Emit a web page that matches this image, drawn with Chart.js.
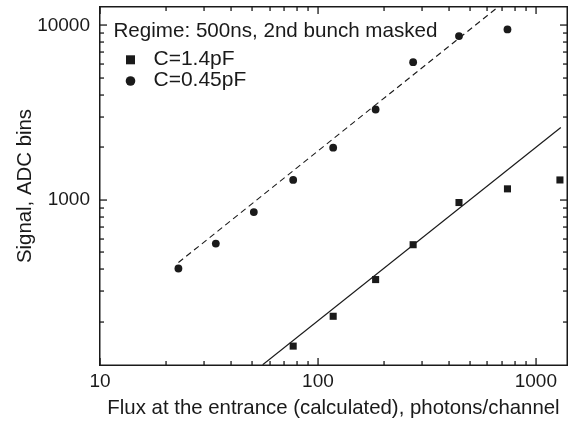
<!DOCTYPE html>
<html>
<head>
<meta charset="utf-8">
<script src="https://cdn.jsdelivr.net/npm/chart.js@4.4.1/dist/chart.umd.min.js"></script>
<style>
  html, body { margin: 0; padding: 0; background: #fff; }
  #wrap { width: 576px; height: 422px; }
</style>
</head>
<body>
<div id="wrap"><canvas id="fluxChart" width="576" height="422"></canvas></div>
<script>
const squareFlux = [77, 117.5, 184, 273.5, 444, 741, 1290];
const squareSignal = [145, 215, 349, 553, 965, 1156, 1300];
const circleFlux = [22.9, 34, 50.8, 77, 117.5, 184, 273.5, 444, 741];
const circleSignal = [404, 561, 851, 1301, 1990, 3296, 6151, 8690, 9480];

// fit lines (end points only)
const solidFitFlux = [55.8, 1302];
const solidFitSignal = [113.4, 2600];
const dashedFitFlux = [22.9, 671];
const dashedFitSignal = [437, 12750];

const xTickValues = [10, 20, 30, 40, 50, 60, 70, 80, 90, 100, 200, 300, 400, 500, 600, 700, 800, 900, 1000];
const yTickValues = [200, 300, 400, 500, 600, 700, 800, 900, 1000, 2000, 3000, 4000, 5000, 6000, 7000, 8000, 9000, 10000];
const xLabelled = [10, 100, 1000];
const yLabelled = [1000, 10000];

const legendTitle = 'Regime: 500ns, 2nd bunch masked';
const legendNames = ['C=1.4pF', 'C=0.45pF'];

const FONT = '"Liberation Sans", Arial, Helvetica, sans-serif';
const INK = '#1a1a1a';

function toPoints(xs, ys) {
  return xs.map((x, i) => ({ x, y: ys[i] }));
}

const frameAndLegend = {
  id: 'frameAndLegend',
  afterDraw(chart) {
    const { ctx, chartArea: area } = chart;
    const xScale = chart.scales.x;
    const yScale = chart.scales.y;
    const left = Math.round(area.left);
    const right = Math.round(area.right);
    const top = Math.round(area.top);
    const bottom = Math.round(area.bottom);
    ctx.save();
    ctx.fillStyle = INK;

    // frame
    ctx.fillRect(left - 1, top - 1, right - left + 2, 1.5);
    ctx.fillRect(left - 1, bottom - 0.5, right - left + 2, 1.5);
    ctx.fillRect(left - 1, top - 1, 1.5, bottom - top + 2);
    ctx.fillRect(right - 0.5, top - 1, 1.5, bottom - top + 2);

    // inward ticks on all four sides
    xTickValues.forEach((v) => {
      const px = Math.round(xScale.getPixelForValue(v));
      const len = xLabelled.includes(v) ? 7 : 4;
      ctx.fillRect(px - 0.6, bottom - len, 1.3, len);
      ctx.fillRect(px - 0.6, top, 1.3, len);
    });
    yTickValues.forEach((v) => {
      const py = Math.round(yScale.getPixelForValue(v));
      const len = yLabelled.includes(v) ? 7 : 4;
      ctx.fillRect(left, py - 0.6, len, 1.3);
      ctx.fillRect(right - len, py - 0.6, len, 1.3);
    });

    // legend inside the plot
    ctx.textBaseline = 'alphabetic';
    ctx.textAlign = 'left';
    ctx.font = '20.6px ' + FONT;
    ctx.fillText(legendTitle, 113.5, 36.5);
    ctx.font = '21px ' + FONT;
    ctx.fillRect(126, 55.3, 9, 9);
    ctx.fillText(legendNames[0], 153.5, 65);
    ctx.beginPath();
    ctx.arc(130.5, 81, 4.8, 0, Math.PI * 2);
    ctx.fill();
    ctx.fillText(legendNames[1], 153.5, 86.3);
    ctx.restore();
  }
};

new Chart(document.getElementById('fluxChart'), {
  type: 'scatter',
  data: {
    datasets: [
      {
        label: 'fit 1.4pF',
        data: toPoints(solidFitFlux, solidFitSignal),
        showLine: true,
        borderColor: INK,
        borderWidth: 1.2,
        pointRadius: 0
      },
      {
        label: 'fit 0.45pF',
        data: toPoints(dashedFitFlux, dashedFitSignal),
        showLine: true,
        borderColor: INK,
        borderWidth: 1.1,
        borderDash: [6, 4],
        pointRadius: 0
      },
      {
        label: legendNames[0],
        data: toPoints(squareFlux, squareSignal),
        pointStyle: 'rect',
        pointRadius: 5,
        backgroundColor: INK,
        borderColor: INK,
        borderWidth: 0
      },
      {
        label: legendNames[1],
        data: toPoints(circleFlux, circleSignal),
        pointStyle: 'circle',
        pointRadius: 3.9,
        backgroundColor: INK,
        borderColor: INK,
        borderWidth: 0
      }
    ]
  },
  options: {
    responsive: false,
    animation: false,
    events: [],
    layout: { padding: { top: 7, right: 9, left: 0, bottom: 0 } },
    plugins: {
      legend: { display: false },
      tooltip: { enabled: false }
    },
    scales: {
      x: {
        type: 'logarithmic',
        min: 10,
        max: 1390,
        afterBuildTicks: (scale) => { scale.ticks = xTickValues.map((v) => ({ value: v })); },
        afterFit: (scale) => {
          scale.height = 57;
          scale.paddingLeft = 0;
          scale.paddingRight = 0;
        },
        grid: { display: false, drawTicks: false },
        border: { display: false },
        ticks: {
          autoSkip: false,
          maxRotation: 0,
          padding: 5,
          color: INK,
          font: { family: FONT, size: 19 },
          callback: (value) => (xLabelled.includes(value) ? String(value) : '')
        },
        title: {
          display: true,
          text: 'Flux at the entrance (calculated), photons/channel',
          color: INK,
          font: { family: FONT, size: 20.4 },
          padding: { top: 0, bottom: 1 }
        }
      },
      y: {
        type: 'logarithmic',
        min: 113,
        max: 12750,
        afterBuildTicks: (scale) => { scale.ticks = yTickValues.map((v) => ({ value: v })); },
        afterFit: (scale) => {
          scale.width = 100;
          scale.paddingTop = 0;
          scale.paddingBottom = 0;
        },
        grid: { display: false, drawTicks: false },
        border: { display: false },
        ticks: {
          autoSkip: false,
          padding: 10,
          color: INK,
          font: { family: FONT, size: 19 },
          callback: (value) => (yLabelled.includes(value) ? String(value) : '')
        },
        title: {
          display: true,
          text: 'Signal, ADC bins',
          color: INK,
          font: { family: FONT, size: 20.4 },
          padding: { top: 13, bottom: 0 }
        }
      }
    }
  },
  plugins: [frameAndLegend]
});
</script>
</body>
</html>
